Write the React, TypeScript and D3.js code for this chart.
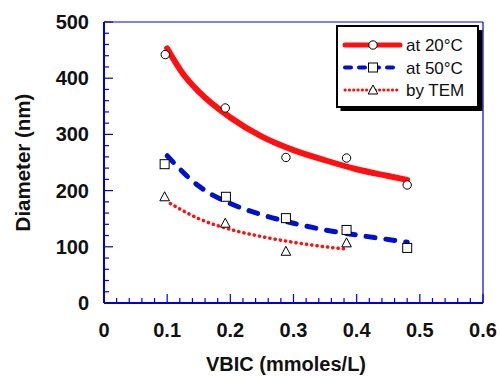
import React from "react";
import * as d3 from "d3";

// Measured points
const x20 = [0.097, 0.192, 0.288, 0.384, 0.48];
const y20 = [442, 347, 259, 258, 210];
const x50 = [0.096, 0.193, 0.288, 0.384, 0.48];
const y50 = [247, 189, 151, 130, 98];
const xTem = [0.096, 0.192, 0.288, 0.384];
const yTem = [189, 142, 92, 107];

// Fitted curves
const fit20X = [0.1, 0.125, 0.15, 0.2, 0.25, 0.3, 0.35, 0.4, 0.45, 0.48];
const fit20Y = [453, 408, 376, 330, 296, 272, 254, 238, 226, 219];
const fit50X = [0.1, 0.15, 0.2, 0.25, 0.3, 0.35, 0.4, 0.45, 0.48];
const fit50Y = [262, 208, 177, 157, 142, 130, 121, 113, 108];
const fitTemX = [0.105, 0.15, 0.2, 0.25, 0.3, 0.35, 0.384];
const fitTemY = [177, 150, 131, 118, 108, 100, 96];

const xTicks = [0, 0.1, 0.2, 0.3, 0.4, 0.5, 0.6];
const yTicks = [0, 100, 200, 300, 400, 500];
const legendLabels = ["at 20°C", "at 50°C", "by TEM"];

const W = 500, H = 376;
const L = 104, R = 483, T = 22, B = 303;
const AXIS = "#0000dd";
const FONT = "Liberation Sans, Arial, Helvetica, sans-serif";

export default function App() {
  const x = d3.scaleLinear().domain([0, 0.6]).range([L, R]);
  const y = d3.scaleLinear().domain([0, 500]).range([B, T]);
  const line = d3
    .line<[number, number]>()
    .x((d) => x(d[0]))
    .y((d) => y(d[1]))
    .curve(d3.curveMonotoneX);

  const zip = (a: number[], b: number[]) => a.map((v, i) => [v, b[i]] as [number, number]);

  const minorX = d3.range(0, 0.6001, 0.02);
  const minorY = d3.range(0, 500.1, 20);

  const circle = (cx: number, cy: number, k: string) => (
    <circle key={k} cx={cx} cy={cy} r={4.2} fill="white" stroke="black" strokeWidth={1} />
  );
  const square = (cx: number, cy: number, k: string) => (
    <rect key={k} x={cx - 4.5} y={cy - 4.5} width={9} height={9} fill="white" stroke="black" strokeWidth={1} />
  );
  const tri = (cx: number, cy: number, k: string) => (
    <path
      key={k}
      d={`M${cx},${cy - 5} L${cx + 4.8},${cy + 4} L${cx - 4.8},${cy + 4} Z`}
      fill="white"
      stroke="black"
      strokeWidth={1}
    />
  );

  const styles = [
    { stroke: "#ff1010", width: 6, dash: undefined as string | undefined },
    { stroke: "#0010d0", width: 5, dash: "9 11" },
    { stroke: "#ff1010", width: 3.5, dash: "0.3 5" },
  ];

  const lx0 = 345, lx1 = 400, lmx = 373;
  const rows = [45, 67.5, 90];

  return (
    <svg width={W} height={H} style={{ position: "absolute", left: 0, top: 0, background: "white" }}>
      {/* frame */}
      <line x1={L} y1={T} x2={R} y2={T} stroke={AXIS} strokeWidth={1.2} />
      <line x1={R} y1={T} x2={R} y2={B} stroke={AXIS} strokeWidth={1.2} />
      <line x1={L} y1={T} x2={L} y2={B} stroke={AXIS} strokeWidth={2} />
      <line x1={L} y1={B} x2={R} y2={B} stroke={AXIS} strokeWidth={2} />
      {/* ticks */}
      {minorX.map((v, i) => (
        <line key={"mx" + i} x1={x(v)} x2={x(v)} y1={B} y2={B - (i % 5 === 0 ? 9 : 5)} stroke={AXIS} strokeWidth={1.2} />
      ))}
      {minorY.map((v, i) => (
        <line key={"my" + i} x1={L} x2={L + (i % 5 === 0 ? 9 : 5)} y1={y(v)} y2={y(v)} stroke={AXIS} strokeWidth={1.2} />
      ))}
      {xTicks.map((v) => (
        <text key={"xt" + v} x={x(v)} y={337} textAnchor="middle" fontFamily={FONT} fontWeight="bold" fontSize={20} fill="#111">
          {String(v)}
        </text>
      ))}
      {yTicks.map((v) => (
        <text key={"yt" + v} x={89} y={y(v) + 7} textAnchor="end" fontFamily={FONT} fontWeight="bold" fontSize={20} fill="#111">
          {String(v)}
        </text>
      ))}
      <text x={286} y={371} textAnchor="middle" fontFamily={FONT} fontWeight="bold" fontSize={20} fill="#111">
        VBIC (mmoles/L)
      </text>
      <text
        transform={`translate(30,162.5) rotate(-90)`}
        textAnchor="middle"
        fontFamily={FONT}
        fontWeight="bold"
        fontSize={20.5}
        fill="#111"
      >
        Diameter (nm)
      </text>

      {/* fit curves */}
      <path d={line(zip(fit20X, fit20Y)) || ""} fill="none" stroke={styles[0].stroke} strokeWidth={styles[0].width} strokeLinecap="round" />
      <path d={line(zip(fit50X, fit50Y)) || ""} fill="none" stroke={styles[1].stroke} strokeWidth={styles[1].width} strokeDasharray={styles[1].dash} strokeLinecap="round" />
      <path d={line(zip(fitTemX, fitTemY)) || ""} fill="none" stroke={styles[2].stroke} strokeWidth={styles[2].width} strokeDasharray={styles[2].dash} strokeLinecap="round" />

      {/* markers */}
      {x20.map((v, i) => circle(x(v), y(y20[i]), "c" + i))}
      {x50.map((v, i) => square(x(v), y(y50[i]), "s" + i))}
      {xTem.map((v, i) => tri(x(v), y(yTem[i]), "t" + i))}

      {/* legend */}
      <rect x={340.5} y={30} width={142} height={81} fill="black" />
      <rect x={337} y={26} width={141} height={81} fill="white" stroke="black" strokeWidth={2} />
      {legendLabels.map((lab, i) => (
        <g key={"lg" + i}>
          <line
            x1={lx0}
            x2={lx1}
            y1={rows[i]}
            y2={rows[i]}
            stroke={styles[i].stroke}
            strokeWidth={i === 0 ? 5 : i === 1 ? 4 : 3}
            strokeDasharray={i === 1 ? "6 8" : i === 2 ? "0.3 4" : undefined}
            strokeLinecap="round"
          />
          {i === 0 ? circle(lmx, rows[i], "lc") : i === 1 ? square(lmx, rows[i], "ls") : tri(lmx, rows[i], "lt")}
          <text x={406} y={rows[i] + 6} fontFamily={FONT} fontSize={17} fill="#111">
            {lab}
          </text>
        </g>
      ))}
    </svg>
  );
}
